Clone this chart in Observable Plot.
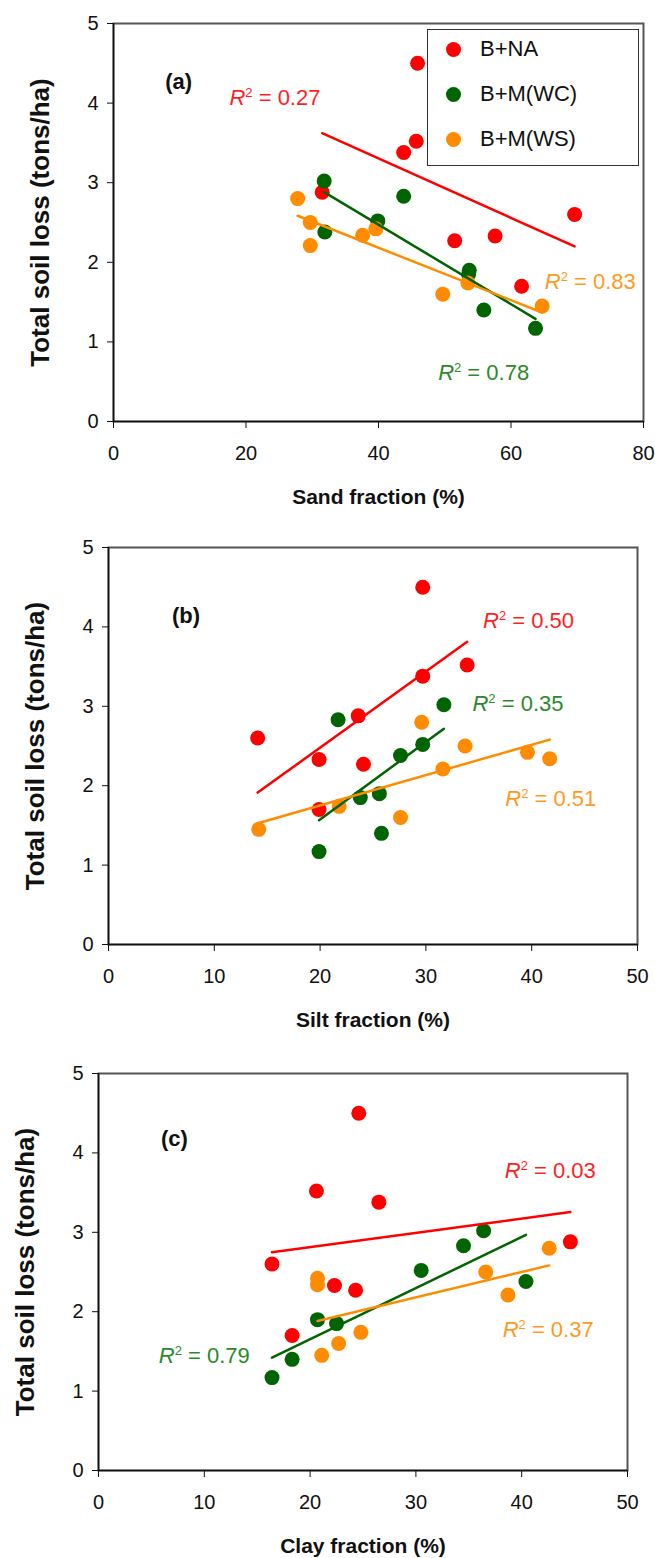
<!DOCTYPE html>
<html>
<head>
<meta charset="utf-8">
<script src="https://cdn.jsdelivr.net/npm/d3@7"></script>
<script src="https://cdn.jsdelivr.net/npm/@observablehq/plot@0.6"></script>
<style>
  body { margin: 0; background: #fff; }
  #chart { position: relative; width: 655px; height: 1558px; font-family: "Liberation Sans", Arial, sans-serif; background:#fff; }
  #chart svg { position: absolute; left: 0; }
  .legend { position: absolute; background: #fff; border: 1.5px solid #333; box-sizing: border-box; }
  .legend .row { position: absolute; display: flex; align-items: center; font-size: 22px; color: #111; white-space: nowrap; }
  .legend .sw { width: 15px; height: 15px; border-radius: 50%; display: inline-block; }
</style>
</head>
<body>
<div id="chart"></div>
<script>
// ---- data ----
const treatments = ["B+NA", "B+M(WC)", "B+M(WS)"];
const colors = ["#ff0000", "#006400", "#ff8c00"];
const labelColors = ["#ff1f1f", "#2b8a2b", "#ff9a1f"];

const lossNA = [4.50, 3.52, 3.38, 2.88, 2.60, 2.33, 2.27, 1.70];
const sandNA = [45.9, 45.7, 43.8, 31.5, 69.6, 57.6, 51.5, 61.6];
const siltNA = [29.7, 33.9, 29.7, 23.6, 14.1, 19.9, 24.1, 19.9];
const clayNA = [24.6, 20.6, 26.5, 44.6, 16.4, 22.3, 24.3, 18.3];

const lossWC = [3.02, 2.83, 2.52, 2.38, 1.90, 1.85, 1.40, 1.17];
const sandWC = [31.8, 43.8, 39.9, 31.9, 53.7, 53.6, 55.9, 63.7];
const siltWC = [31.7, 21.7, 29.7, 27.6, 25.6, 23.8, 25.8, 19.9];
const clayWC = [36.4, 34.5, 30.5, 40.4, 20.7, 22.5, 18.3, 16.4];

const lossWS = [2.80, 2.50, 2.21, 2.34, 2.42, 1.60, 1.74, 1.45];
const sandWS = [27.8, 29.7, 29.7, 37.6, 39.6, 49.7, 53.5, 64.7];
const siltWS = [29.6, 33.7, 31.6, 41.7, 39.6, 27.6, 21.8, 14.2];
const clayWS = [42.6, 36.6, 38.7, 20.7, 20.7, 22.7, 24.8, 21.1];

const r2Sand = ["0.27", "0.78", "0.83"];
const r2Silt = ["0.50", "0.35", "0.51"];
const r2Clay = ["0.03", "0.79", "0.37"];

const xTicksSand = [0, 20, 40, 60, 80];
const xTicksSilt = [0, 10, 20, 30, 40, 50];
const xTicksClay = [0, 10, 20, 30, 40, 50];
const yTicks = [0, 1, 2, 3, 4, 5];
const yTitle = "Total soil loss (tons/ha)";

// ---- table ----
const series = [
  {loss: lossNA, sand: sandNA, silt: siltNA, clay: clayNA},
  {loss: lossWC, sand: sandWC, silt: siltWC, clay: clayWC},
  {loss: lossWS, sand: sandWS, silt: siltWS, clay: clayWS}
];
const rows = [];
series.forEach((s, i) => s.loss.forEach((v, j) => rows.push({
  treatment: treatments[i], loss: v, sand: s.sand[j], silt: s.silt[j], clay: s.clay[j]
})));

// ---- layout ----
const panels = [
  {key: "sand", tag: "(a)", title: "Sand fraction (%)", xDomain: [0, 80], xTicks: xTicksSand, r2: r2Sand,
   top: 0, height: 525, mt: 23, mb: 104, ml: 113, mr: 12,
   tagPos: [7.8, 4.26], r2Pos: [[17.5, 3.97], [49.0, 0.52], [65.1, 1.67]]},
  {key: "silt", tag: "(b)", title: "Silt fraction (%)", xDomain: [0, 50], xTicks: xTicksSilt, r2: r2Silt,
   top: 525, height: 525, mt: 22, mb: 106, ml: 108, mr: 18,
   tagPos: [6.0, 4.14], r2Pos: [[35.4, 3.98], [34.4, 2.94], [37.5, 1.75]]},
  {key: "clay", tag: "(c)", title: "Clay fraction (%)", xDomain: [0, 50], xTicks: xTicksClay, r2: r2Clay,
   top: 1050, height: 508, mt: 23, mb: 88, ml: 98, mr: 28,
   tagPos: [5.9, 4.18], r2Pos: [[38.4, 3.69], [5.7, 1.36], [38.2, 1.68]]}
];

const chart = document.getElementById("chart");

panels.forEach(p => {
  const r2Marks = treatments.map((t, i) => Plot.text(
    [{x: p.r2Pos[i][0], y: p.r2Pos[i][1], t: "R2|" + p.r2[i]}],
    {x: "x", y: "y", text: "t", fill: labelColors[i], fontSize: 22, textAnchor: "start", lineAnchor: "bottom"}
  ));
  const svg = Plot.plot({
    width: 655, height: p.height,
    marginTop: p.mt, marginBottom: p.mb, marginLeft: p.ml, marginRight: p.mr,
    x: {domain: p.xDomain},
    y: {domain: [0, 5]},
    color: {domain: treatments, range: colors},
    style: {fontFamily: '"Liberation Sans", Arial, sans-serif', fontSize: "20px", color: "#111", background: "white", overflow: "visible"},
    marks: [
      Plot.frame({stroke: "#555", strokeWidth: 2}),
      Plot.axisY({ticks: yTicks, tickSize: 6, tickPadding: 9, label: null, fontSize: 20, tickFormat: d => String(d)}),
      Plot.axisX({ticks: p.xTicks, tickSize: 7, tickPadding: 17, label: null, fontSize: 20, tickFormat: d => String(d)}),
      Plot.ruleX([p.xDomain[0]], {stroke: "#111", strokeWidth: 1.5}),
      Plot.ruleY([0], {stroke: "#111", strokeWidth: 1.5}),
      Plot.dot(rows, {x: p.key, y: "loss", fill: "treatment", r: 7.5}),
      Plot.linearRegressionY(rows, {x: p.key, y: "loss", stroke: "treatment", strokeWidth: 2.5, ci: 0}),
      ...r2Marks,
      Plot.text([{x: p.tagPos[0], y: p.tagPos[1], t: p.tag}],
        {x: "x", y: "y", text: "t", fontWeight: "bold", fontSize: 22, textAnchor: "start", fill: "#111"}),
      Plot.text([p.title], {frameAnchor: "bottom", dy: 82, lineAnchor: "bottom", textAnchor: "middle", text: d => d,
        fontSize: 21, fontWeight: "bold", fill: "#111"}),
      Plot.text([yTitle], {frameAnchor: "left", dx: -73, rotate: -90, textAnchor: "middle", lineAnchor: "middle", text: d => d,
        fontSize: 26, fontWeight: "bold", fill: "#111"})
    ]
  });
  svg.style.top = p.top + "px";
  // italic R with superscript 2
  d3.select(svg).selectAll("text").each(function () {
    const txt = this.textContent;
    if (txt.startsWith("R2|")) {
      const val = txt.slice(3);
      const sel = d3.select(this);
      sel.text(null);
      sel.append("tspan").attr("font-style", "italic").text("R");
      sel.append("tspan").attr("font-size", "13px").attr("dy", -8).text("2");
      sel.append("tspan").attr("dy", 8).text(" = " + val);
    }
  });
  chart.appendChild(svg);
});

// legend (inside panel a)
const legend = d3.select(chart).append("div").attr("class", "legend")
  .style("left", "427px").style("top", "29px").style("width", "212px").style("height", "137px");
treatments.forEach((t, i) => {
  const row = legend.append("div").attr("class", "row")
    .style("left", "18px").style("top", (6 + i * 45) + "px").style("height", "26px");
  row.append("span").attr("class", "sw").style("background", colors[i]);
  row.append("span").style("margin-left", "19px").text(t);
});
</script>
</body>
</html>
